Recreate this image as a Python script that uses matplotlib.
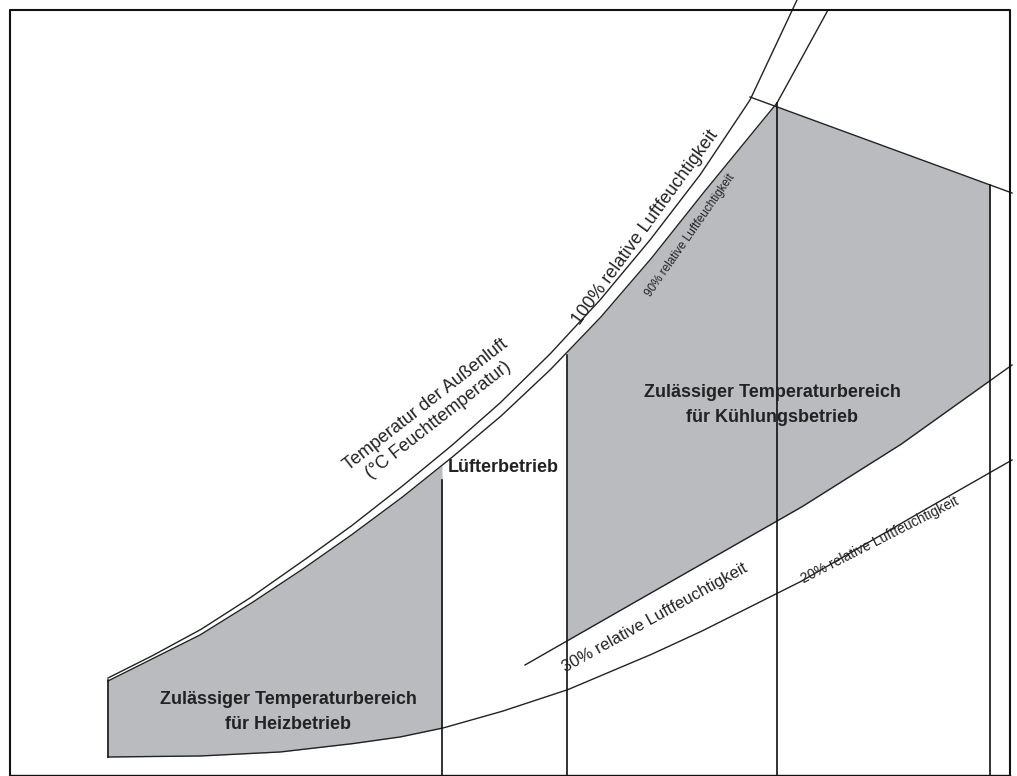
import numpy as np
import matplotlib
matplotlib.use("Agg")
import matplotlib.pyplot as plt

# curve points (pixel coords)
rh100_x = [108, 150, 200, 250, 300, 350, 400, 450, 500, 550, 600, 650, 700, 750, 797]
rh100_y = [678, 657, 630, 598, 563, 527, 488, 447, 403, 354, 300, 240, 175, 100, 0]
rh90_x = [108, 150, 200, 250, 300, 350, 400, 450, 500, 550, 600, 650, 700, 740, 777, 828]
rh90_y = [681, 660, 635, 604, 571, 536, 499, 459, 417, 370, 318, 260, 197, 148, 103, 10]
rh30_x = [525, 600, 700, 800, 900, 1012]
rh30_y = [665, 622, 565, 508, 445, 365]
rh20_x = [108, 200, 280, 350, 400, 443, 500, 567, 650, 700, 800, 900, 1012]
rh20_y = [757, 756, 752, 744, 737, 728, 712, 690, 655, 632, 582, 524, 460]
top_x = [750, 1012]
top_y = [97, 193]
vlines_x = [108, 442, 567, 777, 990]
vlines_top = [680, 480, 355, 103, 185]
vlines_bot = [757, 776, 776, 776, 776]

gray = "#b9bbbe"
fig = plt.figure(figsize=(10.17, 7.76), dpi=100)
ax = fig.add_axes([0, 0, 1, 1])
ax.set_xlim(0, 1017); ax.set_ylim(776, 0); ax.axis("off")

xh = np.linspace(108, 442, 300)
ax.fill_between(xh, np.interp(xh, rh90_x, rh90_y), np.interp(xh, rh20_x, rh20_y), color=gray, lw=0)
xc = np.linspace(567, 990, 400)
topc = np.where(xc <= 777, np.interp(xc, rh90_x, rh90_y), np.interp(xc, top_x, top_y))
ax.fill_between(xc, topc, np.interp(xc, rh30_x, rh30_y), color=gray, lw=0)

lk = dict(color="#222222", lw=1.0)
for xs, ys in [(rh100_x, rh100_y), (rh90_x, rh90_y), (rh30_x, rh30_y), (rh20_x, rh20_y), (top_x, top_y)]:
    xx = np.linspace(xs[0], xs[-1], 400)
    ax.plot(xx, np.interp(xx, xs, ys), **lk)
for x, t, b in zip(vlines_x, vlines_top, vlines_bot):
    ax.plot([x, x], [t, b], color="#111111", lw=1.2)
ax.plot([10, 10, 1010, 1010], [776, 10, 10, 776], color="#111111", lw=1.5)
ax.plot([10, 1010], [775, 775], color="#111111", lw=1.0)

fam = ["Liberation Sans", "DejaVu Sans"]
bold = dict(family=fam, fontweight="bold", fontsize=13, color="#222222", ha="center", va="center", linespacing=1.6)
ax.text(288, 712, "Zulässiger Temperaturbereich\nfür Heizbetrieb", **bold)
ax.text(503, 467, "Lüfterbetrieb", **bold)
ax.text(772, 405, "Zulässiger Temperaturbereich\nfür Kühlungsbetrieb", **bold)

th = dict(family=fam, color="#222222", ha="center", va="center", rotation_mode="anchor")
ax.text(432, 412, "Temperatur der Außenluft\n(°C Feuchttemperatur)", fontsize=13, rotation=38, **th)
ax.text(645, 228, "100% relative Luftfeuchtigkeit", fontsize=13, rotation=54, **th)
ax.text(690, 235, "90% relative Luftfeuchtigkeit", fontsize=8.5, rotation=55, **th)
ax.text(655, 618, "30% relative Luftfeuchtigkeit", fontsize=12, rotation=29, **th)
ax.text(880, 540, "20% relative Luftfeuchtigkeit", fontsize=10, rotation=27, **th)

fig.savefig("out.png", dpi=100, facecolor="white")
